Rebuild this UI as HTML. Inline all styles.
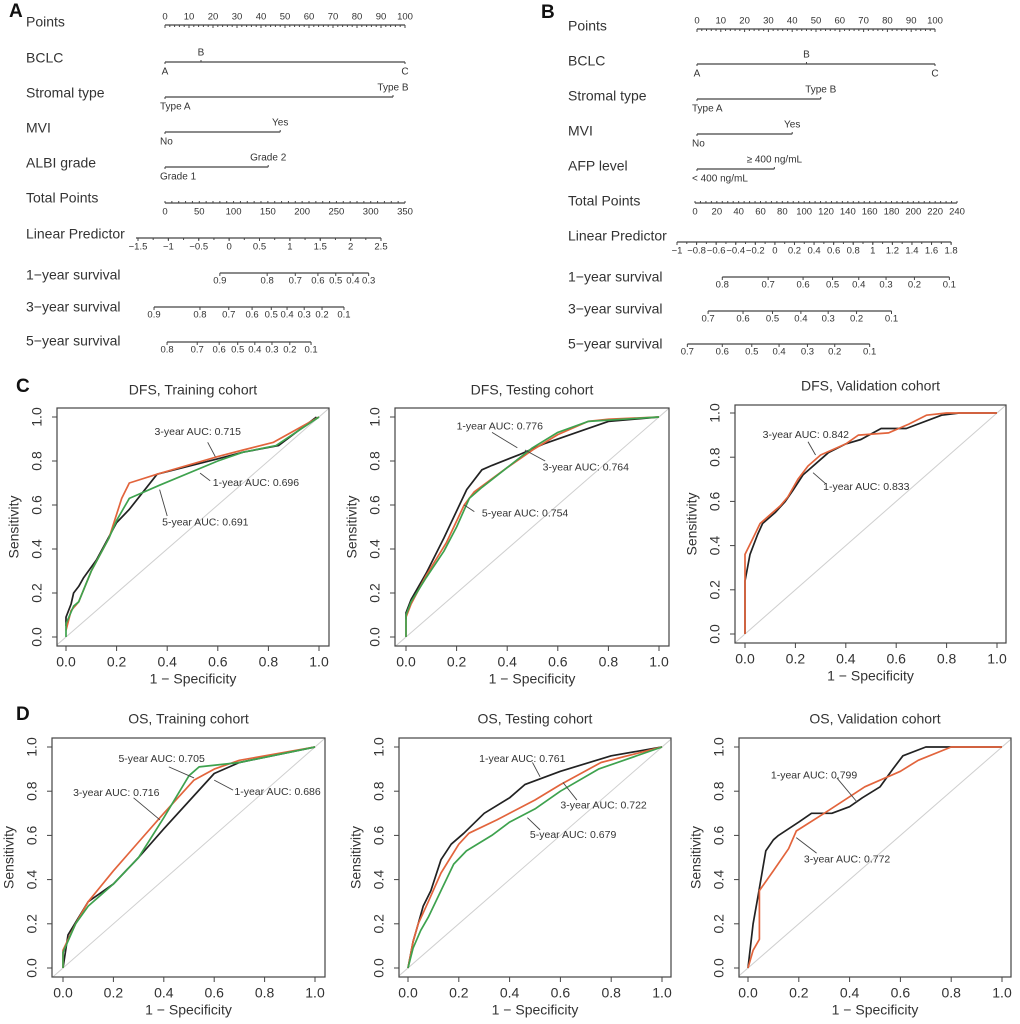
<!DOCTYPE html>
<html><head><meta charset="utf-8"><style>
html,body{margin:0;padding:0;background:#fff;}
svg{display:block;font-family:"Liberation Sans",Arial,sans-serif;}
</style></head><body>
<svg id="fig" width="1020" height="1024" viewBox="0 0 1020 1024"></svg>
<script>
// ---------- ROC data (fpr / tpr) ----------
const dfsTrain1yFpr=[0,0,0.02,0.03,0.05,0.07,0.12,0.2,0.25,0.36,0.6,0.7,0.84,0.99];
const dfsTrain1yTpr=[0.05,0.09,0.15,0.2,0.23,0.27,0.35,0.52,0.58,0.74,0.81,0.84,0.87,1.0];
const dfsTrain3yFpr=[0,0.02,0.05,0.1,0.17,0.22,0.25,0.36,0.6,0.7,0.82,1];
const dfsTrain3yTpr=[0.03,0.12,0.16,0.3,0.45,0.63,0.7,0.74,0.82,0.85,0.885,1];
const dfsTrain5yFpr=[0,0,0.03,0.05,0.1,0.17,0.2,0.25,0.37,0.6,0.7,0.83,1];
const dfsTrain5yTpr=[0,0.06,0.14,0.16,0.3,0.45,0.53,0.63,0.69,0.8,0.84,0.87,1];

const dfsTest1yFpr=[0,0,0.02,0.08,0.15,0.24,0.3,0.34,0.45,0.55,0.7,0.8,1];
const dfsTest1yTpr=[0.08,0.11,0.17,0.29,0.45,0.67,0.76,0.78,0.83,0.88,0.94,0.98,1];
const dfsTest3yFpr=[0,0,0.02,0.08,0.16,0.23,0.27,0.4,0.5,0.6,0.72,0.8,1];
const dfsTest3yTpr=[0,0.09,0.15,0.28,0.43,0.6,0.66,0.77,0.85,0.92,0.98,0.99,1];
const dfsTest5yFpr=[0,0,0.02,0.08,0.15,0.2,0.25,0.3,0.4,0.5,0.6,0.72,1];
const dfsTest5yTpr=[0,0.1,0.16,0.27,0.39,0.5,0.63,0.68,0.77,0.86,0.93,0.98,1];

const dfsVal1yFpr=[0,0,0.02,0.05,0.07,0.12,0.16,0.19,0.23,0.33,0.4,0.46,0.54,0.64,0.78,0.85,1];
const dfsVal1yTpr=[0,0.24,0.36,0.45,0.5,0.55,0.6,0.65,0.72,0.82,0.86,0.88,0.93,0.93,0.99,1,1];
const dfsVal3yFpr=[0,0,0.03,0.06,0.1,0.14,0.17,0.21,0.25,0.3,0.4,0.45,0.57,0.65,0.72,0.8,1];
const dfsVal3yTpr=[0,0.36,0.43,0.5,0.54,0.58,0.62,0.7,0.76,0.81,0.86,0.9,0.91,0.95,0.99,1,1];

const osTrain1yFpr=[0,0.02,0.1,0.2,0.3,0.4,0.6,0.7,1];
const osTrain1yTpr=[0,0.15,0.3,0.38,0.5,0.63,0.88,0.93,1];
const osTrain3yFpr=[0,0,0.05,0.1,0.2,0.3,0.4,0.52,0.6,0.7,1];
const osTrain3yTpr=[0,0.08,0.2,0.3,0.44,0.57,0.7,0.85,0.9,0.94,1];
const osTrain5yFpr=[0,0,0.05,0.1,0.2,0.3,0.4,0.5,0.54,0.7,1];
const osTrain5yTpr=[0,0.07,0.2,0.28,0.38,0.5,0.68,0.87,0.91,0.93,1];

const osTest1yFpr=[0,0.02,0.04,0.06,0.09,0.13,0.17,0.22,0.3,0.4,0.46,0.6,0.8,1];
const osTest1yTpr=[0,0.12,0.2,0.28,0.35,0.49,0.56,0.61,0.7,0.77,0.83,0.89,0.96,1];
const osTest3yFpr=[0,0.02,0.04,0.08,0.13,0.2,0.24,0.35,0.5,0.6,0.76,1];
const osTest3yTpr=[0,0.12,0.2,0.3,0.43,0.56,0.61,0.67,0.76,0.83,0.93,1];
const osTest5yFpr=[0,0.02,0.05,0.08,0.13,0.18,0.23,0.33,0.4,0.5,0.6,0.75,1];
const osTest5yTpr=[0,0.09,0.17,0.23,0.35,0.47,0.53,0.6,0.66,0.72,0.8,0.9,1];

const osVal1yFpr=[0,0.02,0.04,0.07,0.1,0.12,0.2,0.25,0.33,0.4,0.45,0.52,0.57,0.61,0.7,1];
const osVal1yTpr=[0,0.2,0.33,0.53,0.58,0.6,0.66,0.7,0.7,0.73,0.77,0.82,0.9,0.96,1,1];
const osVal3yFpr=[0,0.02,0.045,0.045,0.1,0.16,0.19,0.3,0.46,0.6,0.67,0.8,1];
const osVal3yTpr=[0,0.08,0.13,0.35,0.44,0.54,0.62,0.7,0.82,0.89,0.94,1,1];

const rocTicks=[0,0.2,0.4,0.6,0.8,1.0];

// ---------- Nomogram data ----------
const pointsTicks=[0,10,20,30,40,50,60,70,80,90,100];
const nomoACatBCLC=['A','B','C'];          const nomoAPtsBCLC=[0,15,100];
const nomoACatStroma=['Type A','Type B'];  const nomoAPtsStroma=[0,95];
const nomoACatMVI=['No','Yes'];            const nomoAPtsMVI=[0,48];
const nomoACatALBI=['Grade 1','Grade 2'];  const nomoAPtsALBI=[0,43];
const nomoATotalTicks=[0,50,100,150,200,250,300,350];
const nomoALpTicks=[-1.5,-1,-0.5,0,0.5,1,1.5,2,2.5];
const nomoA1yLabels=[0.9,0.8,0.7,0.6,0.5,0.4,0.3];
const nomoA1yTotal=[80,149,190,223,249,274,297];
const nomoA3yLabels=[0.9,0.8,0.7,0.6,0.5,0.4,0.3,0.2,0.1];
const nomoA3yTotal=[-16,51,93,127,155,178,203,229,261];
const nomoA5yLabels=[0.8,0.7,0.6,0.5,0.4,0.3,0.2,0.1];
const nomoA5yTotal=[3,47,79,106,131,156,182,213];

const nomoBCatBCLC=['A','B','C'];          const nomoBPtsBCLC=[0,46,100];
const nomoBCatStroma=['Type A','Type B'];  const nomoBPtsStroma=[0,52];
const nomoBCatMVI=['No','Yes'];            const nomoBPtsMVI=[0,40];
const nomoBCatAFP=['< 400 ng/mL','≥ 400 ng/mL']; const nomoBPtsAFP=[0,32.5];
const nomoBTotalTicks=[0,20,40,60,80,100,120,140,160,180,200,220,240];
const nomoBLpTicks=[-1,-0.8,-0.6,-0.4,-0.2,0,0.2,0.4,0.6,0.8,1,1.2,1.4,1.6,1.8];
const nomoB1yLabels=[0.8,0.7,0.6,0.5,0.4,0.3,0.2,0.1];
const nomoB1yTotal=[25,67,99,126,150,175,201,233];
const nomoB3yLabels=[0.7,0.6,0.5,0.4,0.3,0.2,0.1];
const nomoB3yTotal=[12,44,71,97,122,148,180];
const nomoB5yLabels=[0.7,0.6,0.5,0.4,0.3,0.2,0.1];
const nomoB5yTotal=[-7,25,52,77,103,128,160];

// ---------- helpers ----------
const NS='http://www.w3.org/2000/svg';
const svg=document.getElementById('fig');
function mk(tag,attrs,name,parent){
  const el=document.createElementNS(NS,tag);
  for(const k in attrs) el.setAttribute(k,attrs[k]);
  
  
  (parent||svg).appendChild(el);
  return el;
}
function txt(x,y,s,size,name,opts,parent){
  opts=opts||{};
  const a={x:x,y:y,'font-size':size,fill:opts.fill||'#333','text-anchor':opts.anchor||'start','dominant-baseline':'middle'};
  if(opts.weight) a['font-weight']=opts.weight;
  if(opts.transform) a.transform=opts.transform;
  const t=mk('text',a,name,parent);
  t.textContent=s;
  return t;
}
function fmt(v){let s=(Math.round(v*10)/10).toString();return s.replace('-','\u2212');}

// ---------- panel letters ----------
txt(9,12,'A',19,'panel-label-a',{weight:'bold',fill:'#111'});
txt(541,13,'B',19,'panel-label-b',{weight:'bold',fill:'#111'});
txt(16,387,'C',19,'panel-label-c',{weight:'bold',fill:'#111'});
txt(16,715,'D',19,'panel-label-d',{weight:'bold',fill:'#111'});

// ---------- Nomogram ----------
function nomogram(cfg){
  const g=mk('g',{},cfg.name);
  const P=p=>cfg.px0+p*(cfg.px1-cfg.px0)/100;
  const T=t=>cfg.tx0+t*(cfg.tx1-cfg.tx0)/cfg.tmax;
  const line=(x1,y,x2,name)=>mk('line',{x1:x1,y1:y,x2:x2,y2:y,stroke:'#444','stroke-width':1.3},name,g);
  const tick=(x,y,len,name)=>mk('line',{x1:x,y1:y,x2:x,y2:y+len,stroke:'#444','stroke-width':1},name,g);
  cfg.rows.forEach((r,i)=>txt(cfg.lx,r[1],r[0],14,'row-label-'+i,{},g));
  const py=cfg.pointsY;
  line(P(0),py,P(100),'points-axis');
  for(let p=0;p<=100;p+=2) tick(P(p),py,p%10===0?3:2,'points-tick');
  pointsTicks.forEach(v=>txt(P(v),py-8,String(v),9.5,'points-tick-label',{anchor:'middle'},g));
  cfg.cats.forEach((c,ci)=>{
    const y=c.y;
    line(P(Math.min(...c.pts)),y,P(Math.max(...c.pts)),'axis-'+c.key);
    c.pts.forEach((p,j)=>{
      const above=(j===1);
      tick(P(p),above?y-2:y,2,'tick-'+c.key);
      const lab=c.cats[j];
      if(!above && p===0 && lab.length>1) txt(P(p)-5,y+10,lab,10,'label-'+c.key,{anchor:'start'},g);
      else txt(P(p),above?y-9:y+10,lab,10,'label-'+c.key,{anchor:'middle'},g);
    });
  });
  const ty=cfg.totalY;
  line(T(0),ty,T(cfg.tmax),'total-points-axis');
  for(let t=0;t<=cfg.tmax;t+=cfg.tminor) tick(T(t),ty-2,2,'total-points-tick');
  cfg.totalTicks.forEach(v=>txt(T(v),ty+9,String(v),9.5,'total-points-label',{anchor:'middle'},g));
  const L=v=>cfg.lp0px+(v-cfg.lpTicks[0])*cfg.lpScale;
  line(cfg.lpStart,cfg.lpY,L(cfg.lpTicks[cfg.lpTicks.length-1]),'linear-predictor-axis');
  for(let v=cfg.lpTicks[0];v<=cfg.lpTicks[cfg.lpTicks.length-1]+1e-9;v+=cfg.lpMinor) tick(L(v),cfg.lpY,2,'lp-minor-tick');
  cfg.lpTicks.forEach(v=>{tick(L(v),cfg.lpY,3,'lp-tick');txt(L(v),cfg.lpY+9,fmt(v),9.5,'lp-label',{anchor:'middle'},g);});
  cfg.surv.forEach(s=>{
    const xs=s.tot.map(T);
    line(Math.min(...xs),s.y,Math.max(...xs),'survival-axis-'+s.key);
    s.tot.forEach((t,j)=>{tick(T(t),s.y,3,'survival-tick-'+s.key);txt(T(t),s.y+8,String(s.labs[j]),9.5,'survival-label-'+s.key,{anchor:'middle'},g);});
  });
}
nomogram({name:'nomogram-a',lx:26,px0:165,px1:405,tx0:165,tx1:405,tmax:350,tminor:10,
  rows:[['Points',23],['BCLC',59],['Stromal type',94],['MVI',129],['ALBI grade',164],['Total Points',199],['Linear Predictor',235],['1\u2212year survival',276],['3\u2212year survival',308],['5\u2212year survival',342]],
  pointsY:25,
  cats:[{key:'bclc',y:62,cats:nomoACatBCLC,pts:nomoAPtsBCLC},{key:'stromal',y:97,cats:nomoACatStroma,pts:nomoAPtsStroma},{key:'mvi',y:132,cats:nomoACatMVI,pts:nomoAPtsMVI},{key:'albi',y:167,cats:nomoACatALBI,pts:nomoAPtsALBI}],
  totalY:203,totalTicks:nomoATotalTicks,
  lpY:238,lpTicks:nomoALpTicks,lp0px:138,lpScale:60.75,lpStart:136,lpMinor:0.25,
  surv:[{key:'1y',y:273,labs:nomoA1yLabels,tot:nomoA1yTotal},{key:'3y',y:307,labs:nomoA3yLabels,tot:nomoA3yTotal},{key:'5y',y:342,labs:nomoA5yLabels,tot:nomoA5yTotal}]
});
nomogram({name:'nomogram-b',lx:568,px0:697,px1:935,tx0:695,tx1:957,tmax:240,tminor:5,
  rows:[['Points',27],['BCLC',62],['Stromal type',97],['MVI',132],['AFP level',167],['Total Points',202],['Linear Predictor',237],['1\u2212year survival',278],['3\u2212year survival',310],['5\u2212year survival',345]],
  pointsY:29,
  cats:[{key:'bclc',y:64,cats:nomoBCatBCLC,pts:nomoBPtsBCLC},{key:'stromal',y:99,cats:nomoBCatStroma,pts:nomoBPtsStroma},{key:'mvi',y:134,cats:nomoBCatMVI,pts:nomoBPtsMVI},{key:'afp',y:169,cats:nomoBCatAFP,pts:nomoBPtsAFP}],
  totalY:203,totalTicks:nomoBTotalTicks,
  lpY:242,lpTicks:nomoBLpTicks,lp0px:677,lpScale:97.9,lpStart:677,lpMinor:0.1,
  surv:[{key:'1y',y:277,labs:nomoB1yLabels,tot:nomoB1yTotal},{key:'3y',y:311,labs:nomoB3yLabels,tot:nomoB3yTotal},{key:'5y',y:344,labs:nomoB5yLabels,tot:nomoB5yTotal}]
});

// ---------- ROC panels ----------
const COL={k:'#222',o:'#e2643c',g:'#3ea24e'};
function roc(cfg){
  const g=mk('g',{},cfg.name);
  const X=v=>cfg.x0+v*(cfg.x1-cfg.x0);
  const Y=v=>cfg.y0-v*(cfg.y0-cfg.y1);
  const b=cfg.box;
  txt((b[0]+b[2])/2,cfg.titleY,cfg.title,14,'panel-title',{anchor:'middle'},g);
  const cid='clip-'+cfg.name;
  const cp=mk('clipPath',{id:cid},'clip',g);
  mk('rect',{x:b[0],y:b[1],width:b[2]-b[0],height:b[3]-b[1]},'clip-rect',cp);
  mk('line',{x1:X(-0.1),y1:Y(-0.1),x2:X(1.1),y2:Y(1.1),stroke:'#cfcfcf','stroke-width':1,'clip-path':'url(#'+cid+')'},'reference-diagonal',g);
  cfg.series.forEach(s=>{
    const d=s.fpr.map((f,i)=>(i?'L':'M')+X(f).toFixed(1)+' '+Y(s.tpr[i]).toFixed(1)).join(' ');
    mk('path',{d:d,fill:'none',stroke:COL[s.c],'stroke-width':1.7,'stroke-linejoin':'round'},'roc-curve-'+s.key,g);
  });
  mk('rect',{x:b[0],y:b[1],width:b[2]-b[0],height:b[3]-b[1],fill:'none',stroke:'#444','stroke-width':1.2},'plot-box',g);
  rocTicks.forEach(v=>{
    mk('line',{x1:X(v),y1:b[3],x2:X(v),y2:b[3]+5,stroke:'#444'},'x-tick',g);
    txt(X(v),b[3]+17,v.toFixed(1),14,'x-tick-label',{anchor:'middle'},g);
    mk('line',{x1:b[0],y1:Y(v),x2:b[0]-5,y2:Y(v),stroke:'#444'},'y-tick',g);
    txt(b[0]-19,Y(v),v.toFixed(1),14,'y-tick-label',{anchor:'middle',transform:'rotate(-90 '+(b[0]-19)+' '+Y(v)+')'},g);
  });
  txt((b[0]+b[2])/2,b[3]+34,'1 \u2212 Specificity',14,'x-axis-title',{anchor:'middle'},g);
  txt(b[0]-42,(b[1]+b[3])/2,'Sensitivity',14,'y-axis-title',{anchor:'middle',transform:'rotate(-90 '+(b[0]-42)+' '+((b[1]+b[3])/2)+')'},g);
  cfg.ann.forEach(a=>{
    mk('line',{x1:X(a[3]),y1:Y(a[4]),x2:X(a[5]),y2:Y(a[6]),stroke:'#444','stroke-width':0.9},'auc-leader-line',g);
    txt(X(a[1]),Y(a[2]),a[0],10.5,'auc-annotation',{},g);
  });
}
roc({name:'roc-dfs-training',title:'DFS, Training cohort',titleY:391,box:[57,408,329,646],x0:66,x1:319,y0:637,y1:417,
  series:[{key:'1y',c:'k',fpr:dfsTrain1yFpr,tpr:dfsTrain1yTpr},{key:'3y',c:'o',fpr:dfsTrain3yFpr,tpr:dfsTrain3yTpr},{key:'5y',c:'g',fpr:dfsTrain5yFpr,tpr:dfsTrain5yTpr}],
  ann:[['3-year AUC: 0.715',0.35,0.93,0.56,0.885,0.59,0.82],['1-year AUC: 0.696',0.58,0.70,0.53,0.745,0.57,0.71],['5-year AUC: 0.691',0.38,0.52,0.37,0.67,0.40,0.55]]});
roc({name:'roc-dfs-testing',title:'DFS, Testing cohort',titleY:391,box:[395,408,669,646],x0:406,x1:659,y0:637,y1:417,
  series:[{key:'1y',c:'k',fpr:dfsTest1yFpr,tpr:dfsTest1yTpr},{key:'3y',c:'o',fpr:dfsTest3yFpr,tpr:dfsTest3yTpr},{key:'5y',c:'g',fpr:dfsTest5yFpr,tpr:dfsTest5yTpr}],
  ann:[['1-year AUC: 0.776',0.2,0.955,0.34,0.93,0.44,0.86],['3-year AUC: 0.764',0.54,0.77,0.47,0.85,0.55,0.80],['5-year AUC: 0.754',0.30,0.56,0.23,0.60,0.27,0.57]]});
roc({name:'roc-dfs-validation',title:'DFS, Validation cohort',titleY:387,box:[735,405,1006,643],x0:745,x1:997,y0:634,y1:413,
  series:[{key:'1y',c:'k',fpr:dfsVal1yFpr,tpr:dfsVal1yTpr},{key:'3y',c:'o',fpr:dfsVal3yFpr,tpr:dfsVal3yTpr}],
  ann:[['3-year AUC: 0.842',0.07,0.9,0.25,0.87,0.28,0.81],['1-year AUC: 0.833',0.31,0.665,0.27,0.73,0.32,0.68]]});
roc({name:'roc-os-training',title:'OS, Training cohort',titleY:720,box:[52,738,325,977],x0:63,x1:315,y0:968,y1:747,
  series:[{key:'1y',c:'k',fpr:osTrain1yFpr,tpr:osTrain1yTpr},{key:'3y',c:'o',fpr:osTrain3yFpr,tpr:osTrain3yTpr},{key:'5y',c:'g',fpr:osTrain5yFpr,tpr:osTrain5yTpr}],
  ann:[['5-year AUC: 0.705',0.22,0.945,0.42,0.91,0.52,0.86],['3-year AUC: 0.716',0.04,0.79,0.28,0.77,0.385,0.67],['1-year AUC: 0.686',0.68,0.795,0.60,0.85,0.675,0.805]]});
roc({name:'roc-os-testing',title:'OS, Testing cohort',titleY:720,box:[399,738,671,977],x0:408,x1:662,y0:968,y1:747,
  series:[{key:'1y',c:'k',fpr:osTest1yFpr,tpr:osTest1yTpr},{key:'3y',c:'o',fpr:osTest3yFpr,tpr:osTest3yTpr},{key:'5y',c:'g',fpr:osTest5yFpr,tpr:osTest5yTpr}],
  ann:[['1-year AUC: 0.761',0.28,0.945,0.49,0.93,0.52,0.865],['3-year AUC: 0.722',0.6,0.735,0.61,0.84,0.665,0.76],['5-year AUC: 0.679',0.48,0.6,0.47,0.68,0.52,0.625]]});
roc({name:'roc-os-validation',title:'OS, Validation cohort',titleY:720,box:[739,738,1011,977],x0:748,x1:1002,y0:968,y1:747,
  series:[{key:'1y',c:'k',fpr:osVal1yFpr,tpr:osVal1yTpr},{key:'3y',c:'o',fpr:osVal3yFpr,tpr:osVal3yTpr}],
  ann:[['1-year AUC: 0.799',0.09,0.87,0.35,0.86,0.43,0.75],['3-year AUC: 0.772',0.22,0.49,0.19,0.59,0.27,0.52]]});
</script>
</body></html>
